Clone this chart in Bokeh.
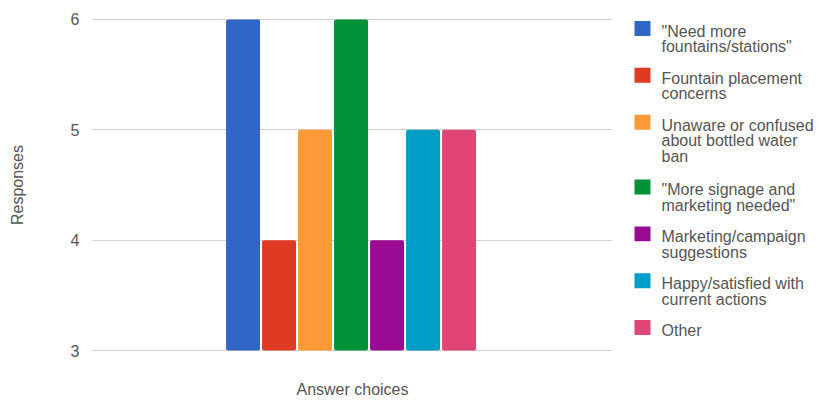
from bokeh.plotting import figure
from bokeh.models import ColumnDataSource, Range1d, FixedTicker
from bokeh.layouts import row
from bokeh.embed import file_html
from bokeh.resources import INLINE

# Survey answer categories and their response counts
categories = [
    '"Need more\nfountains/stations"',
    "Fountain placement\nconcerns",
    "Unaware or confused\nabout bottled water\nban",
    '"More signage and\nmarketing needed"',
    "Marketing/campaign\nsuggestions",
    "Happy/satisfied with\ncurrent actions",
    "Other",
]
responses = [6, 4, 5, 6, 4, 5, 5]
colors = ["#3067c6", "#df3a24", "#fd9a38", "#02923a", "#9a0b94", "#009ec6", "#e04576"]
y_ticks = [3, 4, 5, 6]

FONT = "Liberation Sans"
FONT_SIZE = "16px"
TEXT_COLOR = "#555555"

PLOT_W, LEGEND_W, H = 612, 207, 400
BORDER_TOP, BORDER_BOTTOM = 18, 48

source = ColumnDataSource(dict(
    x=list(range(len(categories))),
    top=responses,
    color=colors,
    label=categories,
))

n = len(categories)
half_span = 7.222
center = (n - 1) / 2 + 0.04
pad = 0.009  # keeps the 3 and 6 grid lines inside the frame
p = figure(
    width=PLOT_W, height=H,
    output_backend="svg", toolbar_location=None,
    x_range=Range1d(center - half_span, center + half_span),
    y_range=Range1d(3 - pad, 6 + pad),
    min_border_left=92, min_border_right=0,
    min_border_top=BORDER_TOP, min_border_bottom=BORDER_BOTTOM,
)
p.outline_line_color = None
p.background_fill_color = "white"
p.border_fill_color = "white"

p.vbar(x="x", top="top", bottom=3, width=0.944, color="color",
       line_color=None, source=source, border_radius=2)

# y axis: labels only, light horizontal grid
p.yaxis.ticker = FixedTicker(ticks=y_ticks)
p.yaxis.axis_line_color = None
p.yaxis.major_tick_line_color = None
p.yaxis.minor_tick_line_color = None
p.yaxis.major_label_text_font = FONT
p.yaxis.major_label_text_font_size = FONT_SIZE
p.yaxis.major_label_text_color = TEXT_COLOR
p.yaxis.major_label_standoff = 7
p.yaxis.axis_label = "Responses"
p.yaxis.axis_label_text_font = FONT
p.yaxis.axis_label_text_font_size = FONT_SIZE
p.yaxis.axis_label_text_font_style = "normal"
p.yaxis.axis_label_text_color = TEXT_COLOR
p.yaxis.axis_label_standoff = 42
p.ygrid.ticker = FixedTicker(ticks=y_ticks)
p.ygrid.grid_line_color = "#d0d0d0"

# x axis: only the title
p.xaxis.ticker = FixedTicker(ticks=[])
p.xaxis.axis_line_color = None
p.xaxis.major_tick_line_color = None
p.xaxis.minor_tick_line_color = None
p.xaxis.axis_label = "Answer choices"
p.xaxis.axis_label_text_font = FONT
p.xaxis.axis_label_text_font_size = FONT_SIZE
p.xaxis.axis_label_text_font_style = "normal"
p.xaxis.axis_label_text_color = TEXT_COLOR
p.xaxis.axis_label_standoff = 29
p.xgrid.grid_line_color = None

# Legend panel in pixel units: swatch beside the first line of each label
lg = figure(
    width=LEGEND_W, height=H,
    output_backend="svg", toolbar_location=None,
    x_range=Range1d(PLOT_W, PLOT_W + LEGEND_W),
    y_range=Range1d(H - BORDER_BOTTOM, BORDER_TOP),
    min_border_left=0, min_border_right=0,
    min_border_top=BORDER_TOP, min_border_bottom=BORDER_BOTTOM,
)
lg.axis.visible = False
lg.grid.visible = False
lg.outline_line_color = None

SWATCH_X, SWATCH_W, SWATCH_H = 634, 16, 15
TEXT_X, LINE_PITCH, BASELINE_SHIFT = 661, 15.5, 10.5
ITEM_LINE, ITEM_GAP = 18, 11

tops, line_x, line_y, line_text = [], [], [], []
y = 20.5
for label in categories:
    lines = label.split("\n")
    tops.append(y)
    for k, line in enumerate(lines):
        line_x.append(TEXT_X)
        line_y.append(y + BASELINE_SHIFT + k * LINE_PITCH)
        line_text.append(line)
    y += ITEM_LINE * len(lines) + ITEM_GAP

lg.quad(left=SWATCH_X, right=SWATCH_X + SWATCH_W,
        top=tops, bottom=[t + SWATCH_H for t in tops],
        color=colors, line_color=None)
lg.text(x=line_x, y=line_y, text=line_text,
        text_font={"value": FONT}, text_font_size=FONT_SIZE,
        text_color=TEXT_COLOR, text_baseline="alphabetic", text_align="left")

layout = row(p, lg)
open("out.html", "w").write(file_html(layout, INLINE))
